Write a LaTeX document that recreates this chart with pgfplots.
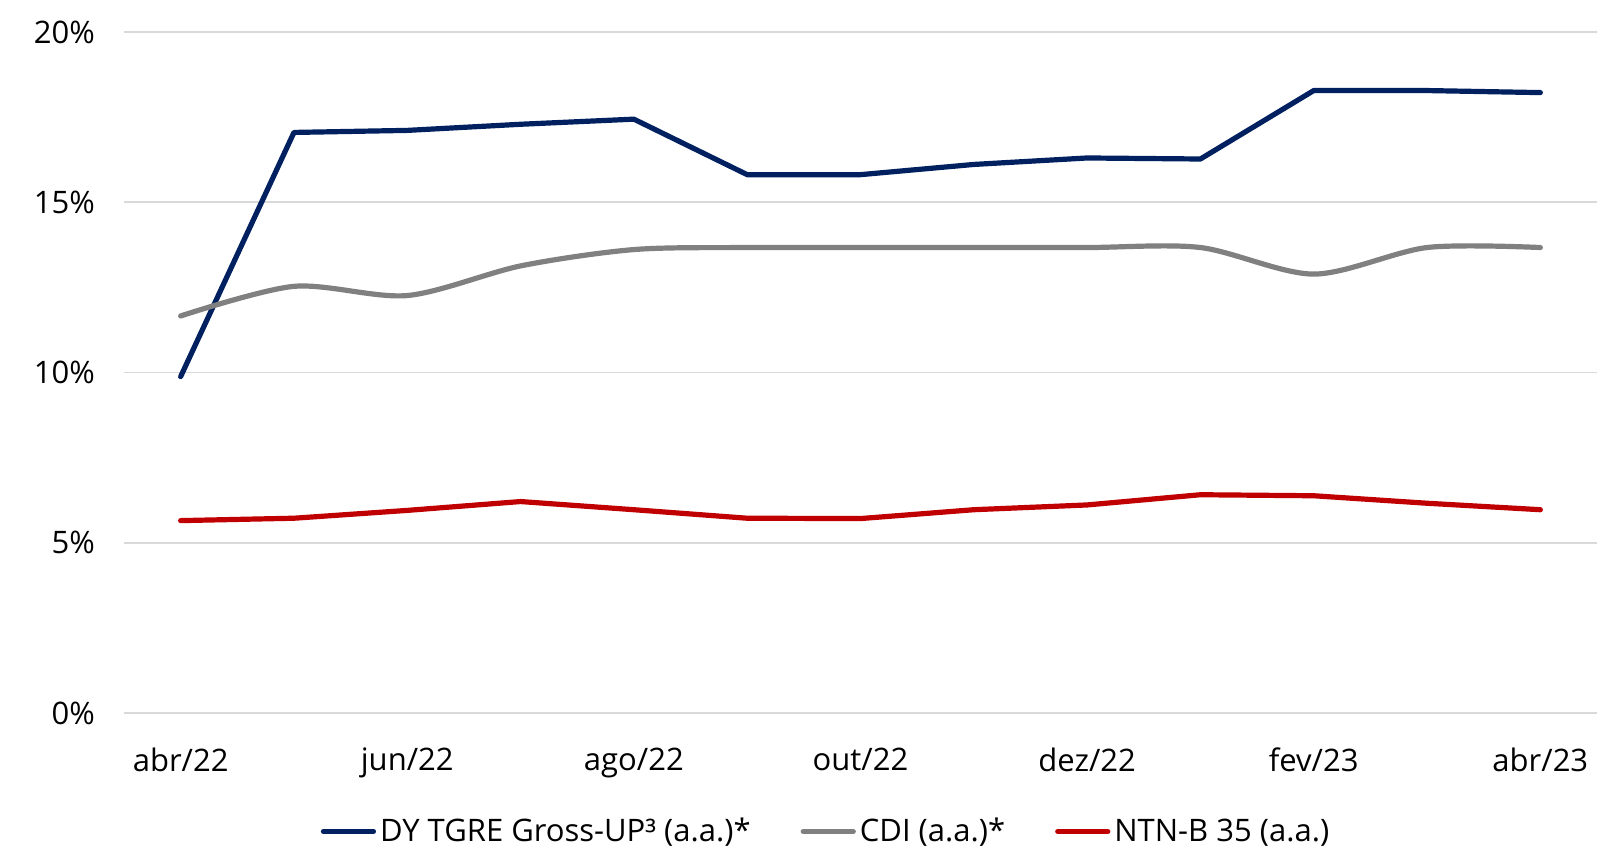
\documentclass[border=0pt]{standalone}
\usepackage{fontspec}
\setmainfont{Open Sans}
\usepackage{pgfplots}
\pgfplotsset{compat=1.18}
\definecolor{dyblue}{HTML}{002060}
\definecolor{cdigrey}{HTML}{808080}
\definecolor{ntnred}{HTML}{C00000}
\definecolor{gridgrey}{HTML}{D9D9D9}
\begin{document}
\begin{tikzpicture}[font=\fontsize{15.5}{18}\selectfont]
\path[use as bounding box] (-62pt,-68.5pt) rectangle (741.5pt,356.5pt);
\begin{axis}[
  at={(0,0)}, anchor=south west,
  scale only axis, width=736.5pt, height=340.5pt,
  xmin=-0.5, xmax=12.5, ymin=0, ymax=20,
  axis line style={draw=none},
  major tick length=0pt,
  ytick={0,5,10,15,20},
  yticklabels={0\%,5\%,10\%,15\%,20\%},
  xtick={0,2,4,6,8,10,12},
  xticklabels={abr/22,jun/22,ago/22,out/22,dez/22,fev/23,abr/23},
  ymajorgrids, grid style={gridgrey, line width=0.8pt},
  yticklabel style={anchor=east, xshift=-11pt},
  xticklabel style={anchor=north, yshift=-14pt},
  clip=false,
  legend columns=3,
  legend style={at={(0.4766,-0.174)}, anchor=center, draw=none, fill=none,
    /tikz/every odd column/.append style={column sep=1pt},
    /tikz/every even column/.append style={column sep=24pt},
    nodes={inner sep=1pt}},
  legend image code/.code={\draw[#1, line cap=round] (0pt,0pt) -- (25pt,0pt);},
  every axis plot/.append style={line width=2.6pt, line join=round, line cap=round},
]
\addplot[dyblue, sharp plot] coordinates {
(0,9.88) (1,17.05) (2,17.11) (3,17.29) (4,17.44) (5,15.81) (6,15.81)
(7,16.11) (8,16.30) (9,16.27) (10,18.28) (11,18.28) (12,18.22)};
\addlegendentry{DY TGRE Gross-UP³ (a.a.)*}
\addplot[cdigrey, smooth, tension=0.5] coordinates {
(0,11.66) (1,12.53) (2,12.26) (3,13.13) (4,13.61) (5,13.67) (6,13.67)
(7,13.67) (8,13.67) (9,13.67) (10,12.89) (11,13.67) (12,13.67)};
\addlegendentry{CDI (a.a.)*}
\addplot[ntnred, sharp plot] coordinates {
(0,5.65) (1,5.72) (2,5.95) (3,6.21) (4,5.97) (5,5.72) (6,5.71)
(7,5.97) (8,6.11) (9,6.41) (10,6.38) (11,6.16) (12,5.97)};
\addlegendentry{NTN-B 35 (a.a.)}
\end{axis}
\end{tikzpicture}
\end{document}
